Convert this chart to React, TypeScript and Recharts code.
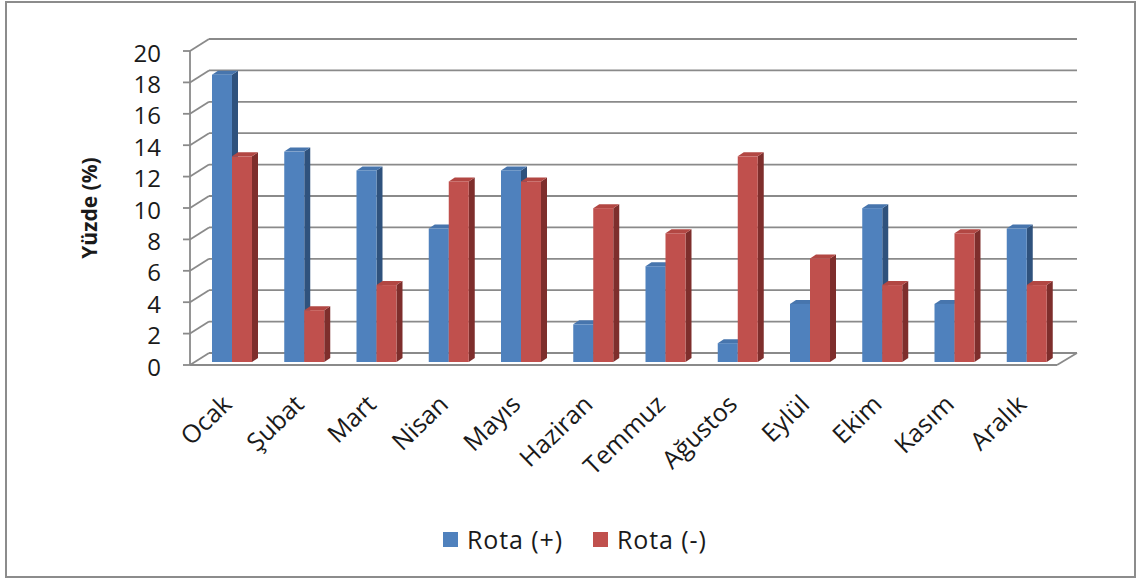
import React from "react";
import { Bar, BarChart, CartesianGrid, XAxis, YAxis } from "recharts";

const months = [
  "Ocak",
  "Şubat",
  "Mart",
  "Nisan",
  "Mayıs",
  "Haziran",
  "Temmuz",
  "Ağustos",
  "Eylül",
  "Ekim",
  "Kasım",
  "Aralık",
];
const rotaPlus = [18.3, 13.4, 12.2, 8.5, 12.2, 2.4, 6.1, 1.2, 3.7, 9.8, 3.7, 8.5];
const rotaMinus = [13.1, 3.3, 4.9, 11.5, 11.5, 9.8, 8.2, 13.1, 6.6, 4.9, 8.2, 4.9];
const yTicks = [0, 2, 4, 6, 8, 10, 12, 14, 16, 18, 20];
const seriesNames = ["Rota (+)", "Rota (-)"];
const yTitle = "Yüzde (%)";

const data = months.map((month, i) => ({
  month,
  plus: rotaPlus[i],
  minus: rotaMinus[i],
}));

const FONT = "'Open Sans', 'DejaVu Sans', sans-serif";
const GRID = "#8a8a8a";

// offsets of the front (axis) plane and back wall from the bar plane
const FRONT = { dx: -6, dy: 3 };
const BACK = { dx: 13, dy: -9 };
const DEPTH = { dx: 6, dy: -4 };

const colors = {
  plus: { front: "#4f81bd", top: "#4775ad", side: "#2f527d" },
  minus: { front: "#c0504d", top: "#b24743", side: "#7e2e2c" },
};

function makeBox(c: { front: string; top: string; side: string }) {
  return function Box3D(props: any) {
    const { x, y, width: w, height: h } = props;
    if (h == null || w == null) return <g />;
    const { dx, dy } = DEPTH;
    return (
      <g>
        <polygon
          points={`${x + w},${y} ${x + w + dx},${y + dy} ${x + w + dx},${y + h + dy} ${x + w},${y + h}`}
          fill={c.side}
        />
        <polygon
          points={`${x},${y} ${x + dx},${y + dy} ${x + w + dx},${y + dy} ${x + w},${y}`}
          fill={c.top}
        />
        <rect x={x} y={y} width={w} height={h} fill={c.front} />
      </g>
    );
  };
}

function gridLine(props: any) {
  const { x1, x2, y1, y, height } = props;
  const isFloor = Math.abs(y1 - (y + height)) < 0.5;
  return (
    <g key={props.key} stroke={GRID} strokeWidth={1.8} fill="none">
      <line x1={x1 + BACK.dx} y1={y1 + BACK.dy} x2={x2 + BACK.dx + 1} y2={y1 + BACK.dy} />
      <line x1={x1 + FRONT.dx} y1={y1 + FRONT.dy} x2={x1 + BACK.dx} y2={y1 + BACK.dy} />
      <line x1={x1 + FRONT.dx - 7} y1={y1 + FRONT.dy} x2={x1 + FRONT.dx} y2={y1 + FRONT.dy} />
      {isFloor && (
        <>
          <line x1={x1 + FRONT.dx} y1={y1 + FRONT.dy} x2={x2 + FRONT.dx} y2={y1 + FRONT.dy} />
          <line x1={x2 + FRONT.dx} y1={y1 + FRONT.dy} x2={x2 + BACK.dx + 1} y2={y1 + BACK.dy} />
        </>
      )}
    </g>
  );
}

function frontAxis(props: any) {
  const { x1, y1, y2 } = props;
  return (
    <line
      key={props.key}
      x1={x1 + FRONT.dx}
      y1={y1 + FRONT.dy}
      x2={x1 + FRONT.dx}
      y2={y2 + FRONT.dy}
      stroke={GRID}
      strokeWidth={1.8}
    />
  );
}

function YTick(props: any) {
  const { x, y, payload } = props;
  return (
    <text
      x={x - 35}
      y={y + FRONT.dy + 1}
      textAnchor="end"
      dominantBaseline="central"
      fontFamily={FONT}
      fontSize={24}
      fill="#1a1a1a"
    >
      {payload.value}
    </text>
  );
}

function XTick(props: any) {
  const { x, y, payload } = props;
  const tx = x + 1;
  const ty = y + 44;
  return (
    <text
      x={tx}
      y={ty}
      textAnchor="end"
      transform={`rotate(-44, ${tx}, ${ty})`}
      fontFamily={FONT}
      fontSize={25}
      fill="#1a1a1a"
    >
      {payload.value}
    </text>
  );
}

function YTitle(props: any) {
  const vb = props.viewBox || {};
  const cx = vb.x - 47;
  const cy = vb.y + vb.height / 2 + 3;
  return (
    <text
      x={cx}
      y={cy}
      textAnchor="middle"
      dominantBaseline="central"
      transform={`rotate(-90, ${cx}, ${cy})`}
      fontFamily={FONT}
      fontWeight="bold"
      fontSize={21}
      fill="#1a1a1a"
    >
      {yTitle}
    </text>
  );
}

export default function App() {
  return (
    <div
      style={{
        position: "absolute",
        left: 0,
        top: 0,
        width: 1138,
        height: 578,
        background: "#fff",
        overflow: "hidden",
      }}
    >
      <div
        style={{
          position: "absolute",
          left: 5,
          top: 1,
          width: 1131,
          height: 577,
          boxSizing: "border-box",
          border: "2px solid #8c8c8c",
        }}
      />
      <div style={{ position: "absolute", left: 0, top: 0 }}>
        <BarChart
          width={1138}
          height={578}
          data={data}
          margin={{ top: 48, right: 75, bottom: 116, left: 136 }}
          barGap={0}
        >
          <CartesianGrid
            horizontal={gridLine}
            vertical={frontAxis}
            verticalCoordinatesGenerator={({ offset }: any) => [offset.left]}
          />
          <XAxis
            dataKey="month"
            axisLine={false}
            tickLine={false}
            tickSize={0}
            tickMargin={0}
            interval={0}
            height={100}
            tick={<XTick />}
          />
          <YAxis
            domain={[0, 20]}
            ticks={yTicks}
            axisLine={false}
            tickLine={false}
            tickSize={0}
            tickMargin={0}
            width={60}
            tick={<YTick />}
            label={YTitle}
          />
          <Bar
            dataKey="plus"
            name={seriesNames[0]}
            barSize={20}
            shape={makeBox(colors.plus)}
            isAnimationActive={false}
          />
          <Bar
            dataKey="minus"
            name={seriesNames[1]}
            barSize={20}
            shape={makeBox(colors.minus)}
            isAnimationActive={false}
          />
        </BarChart>
      </div>
      <div
        style={{
          position: "absolute",
          left: 443,
          top: 522,
          display: "flex",
          alignItems: "center",
          gap: 30,
          fontFamily: FONT,
          fontSize: 25,
          color: "#1a1a1a",
        }}
      >
        {seriesNames.map((name, i) => (
          <div key={name} style={{ display: "flex", alignItems: "center", gap: 9 }}>
            <span
              style={{
                width: 15,
                height: 15,
                background: i === 0 ? colors.plus.front : colors.minus.front,
                display: "inline-block",
              }}
            />
            <span style={{ letterSpacing: 0.9 }}>{name}</span>
          </div>
        ))}
      </div>
    </div>
  );
}
